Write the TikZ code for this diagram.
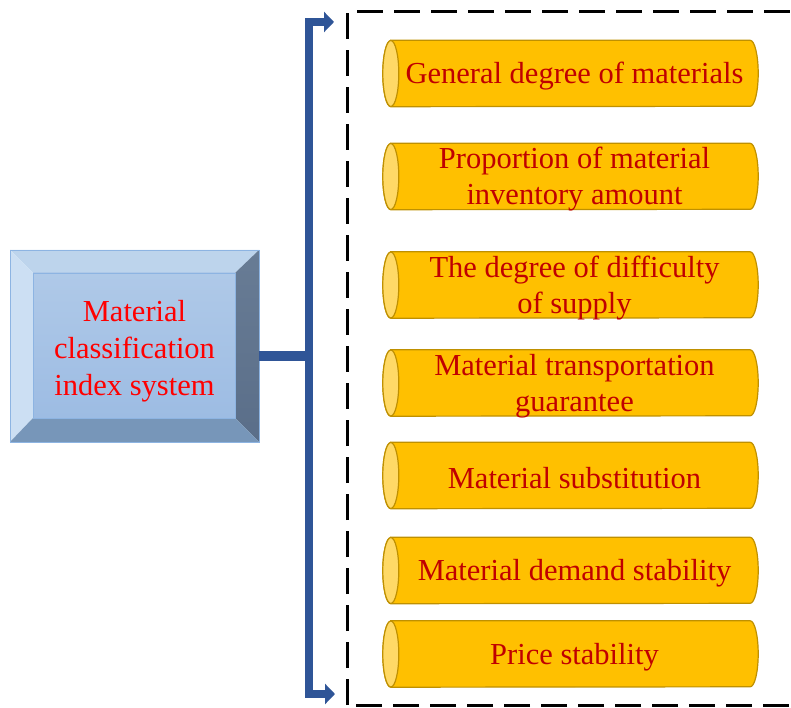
\documentclass[tikz,border=0pt]{standalone}
\usepackage{fontspec}
\setmainfont{Liberation Serif}
\usetikzlibrary{arrows.meta,backgrounds}

\definecolor{busblue}{HTML}{2F5597}
\definecolor{cylgold}{HTML}{FFC000}
\definecolor{cylrim}{HTML}{BF9000}
\definecolor{cylface}{HTML}{FFD966}
\definecolor{txtred}{HTML}{C00000}
\definecolor{rimblue}{HTML}{8DB4E2}
\definecolor{bevtop}{HTML}{BDD4EC}
\definecolor{bevleft}{HTML}{CCDFF3}
\definecolor{bevbottom}{HTML}{7796B9}
\definecolor{bevright}{HTML}{687C95}
\definecolor{bevrightlow}{HTML}{5A6E89}
\definecolor{facetop}{HTML}{AFC9E8}
\definecolor{facebottom}{HTML}{9DBCE3}

\tikzset{
  item/.style={minimum width=367pt, minimum height=66pt, inner sep=0pt, align=center,
    text=txtred, font=\fontsize{30.5}{36}\selectfont},
  cylbody/.style={fill=cylgold, draw=cylrim, line width=1.2pt},
  cylend/.style={fill=cylface, draw=cylrim, line width=1.2pt},
  bus/.style={draw=busblue, line width=8pt, line join=miter},
  frame/.style={draw=black, line width=3pt, dash pattern=on 26pt off 11pt}
}

\begin{document}
\begin{tikzpicture}[x=1pt, y=1pt, >={Triangle[length=10pt,width=20pt]}]
    \clip (0,0) rectangle (791,707);

    % Bevelled box
    \fill[bevtop] (10,457) -- (259,457) -- (235,434) -- (33,434) -- cycle;
    \fill[bevleft] (10,457) -- (33,434) -- (33,289) -- (10,265) -- cycle;
    \shade[top color=bevright, bottom color=bevrightlow]
        (259,457) -- (259,265) -- (235,289) -- (235,434) -- cycle;
    \fill[bevbottom] (10,265) -- (259,265) -- (235,289) -- (33,289) -- cycle;
    \shade[top color=facetop, bottom color=facebottom, draw=rimblue, line width=0.8pt]
        (33,289) rectangle (235,434);
    \draw[rimblue, line width=0.8pt] (10,265) rectangle (259,457);
    \node[minimum width=249pt, minimum height=192pt, align=center, text=red,
          font=\fontsize{30.5}{37}\selectfont] (sys) at (134.5,356)
        {Material\\classification\\index system};

    % Index items
    \foreach \cy/\txt [count=\i] in {633.5/{General degree of materials},
        530.5/{Proportion of material\\inventory amount},
        422/{The degree of difficulty\\of supply},
        324/{Material transportation\\guarantee},
        231.5/{Material substitution},
        136.5/{Material demand stability},
        53/{Price stability}}{
        \node[item] (item\i) at (574.5,\cy-3) {\txt};
    }
    \begin{scope}[on background layer]
    \foreach \i in {1,...,7}{
        \draw[cylbody] ([yshift=3pt]item\i.north west) -- ([shift={(-8pt,3pt)}]item\i.north east)
            arc[start angle=90, end angle=-90, x radius=8pt, y radius=33pt]
            -- ([yshift=3pt]item\i.south west)
            arc[start angle=270, end angle=90, x radius=8pt, y radius=33pt] -- cycle;
        \draw[cylend] ([yshift=3pt]item\i.west) ellipse[x radius=8pt, y radius=33pt];
    }
    \end{scope}

    % Dashed frame
    \draw[frame] (347,2) rectangle (800,695);

    % Bracket
    \coordinate (joint) at (309,351);
    \coordinate (up) at (309,685);
    \coordinate (down) at (309,13);
    \coordinate (uptip) at (334,685);
    \coordinate (downtip) at (335,13);
    \draw[bus, line width=10pt] (sys.east |- joint) -- (joint);
    \draw[bus, <->] (uptip) -- (up) -- (down) -- (downtip);
\end{tikzpicture}
\end{document}
